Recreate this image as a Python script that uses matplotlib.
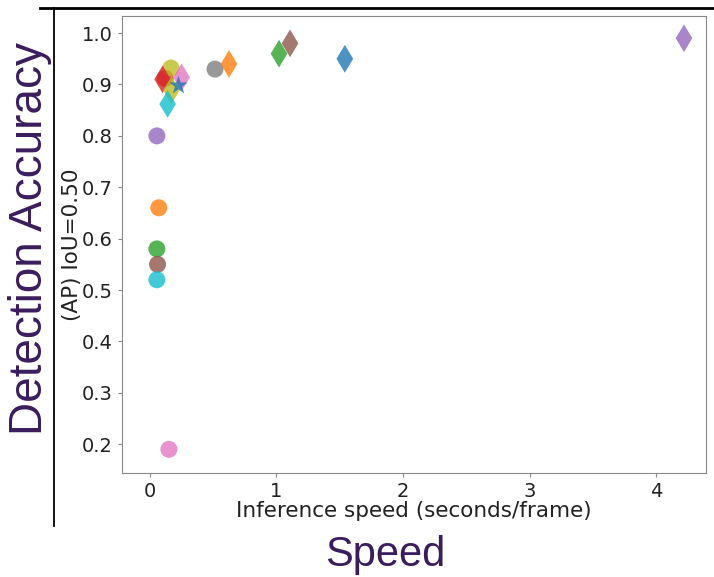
import matplotlib
matplotlib.use("Agg")
import matplotlib.pyplot as plt
from matplotlib.lines import Line2D

# circle series (speed s/frame, AP@0.5)
circle_colors = ["tab:purple", "tab:orange", "tab:green", "tab:brown", "tab:cyan",
                 "tab:pink", "tab:red", "tab:olive", "tab:gray"]
circle_x = [0.055, 0.07, 0.055, 0.06, 0.055, 0.15, 0.12, 0.166, 0.514]
circle_y = [0.80, 0.66, 0.58, 0.55, 0.52, 0.19, 0.912, 0.932, 0.93]

# diamond series
diamond_colors = ["tab:purple", "tab:blue", "tab:brown", "tab:green", "tab:orange",
                  "tab:red", "tab:pink", "tab:olive", "tab:cyan"]
diamond_x = [4.22, 1.54, 1.107, 1.02, 0.625, 0.10, 0.25, 0.17, 0.14]
diamond_y = [0.99, 0.95, 0.98, 0.96, 0.94, 0.91, 0.914, 0.889, 0.862]

# star series
star_colors = ["tab:blue"]
star_x = [0.22]
star_y = [0.899]

xticks = [0, 1, 2, 3, 4]
yticks = [0.2, 0.3, 0.4, 0.5, 0.6, 0.7, 0.8, 0.9, 1.0]

fig = plt.figure(figsize=(7.14, 5.77), dpi=100)
ax = fig.add_axes([0.171, 0.180, 0.818, 0.792])

ax.scatter(circle_x, circle_y, c=circle_colors, marker="o", s=150, alpha=0.8, linewidths=0)
ax.scatter(diamond_x, diamond_y, c=diamond_colors, marker="d", s=200, alpha=0.8, linewidths=0)
ax.scatter(star_x, star_y, c=star_colors, marker="*", s=200, alpha=0.8, linewidths=0)

ax.set_xlim(-0.22, 4.395)
ax.set_ylim(0.1436, 1.033)
ax.set_xticks(xticks)
ax.set_yticks(yticks)
ax.set_xticklabels([str(t) for t in xticks])
ax.set_yticklabels([f"{t:.1f}" for t in yticks])
ax.tick_params(labelsize=14, colors="#222222", length=3, color="#888888")
for sp in ax.spines.values():
    sp.set_color("#888888")
ax.set_xlabel("Inference speed (seconds/frame)", fontsize=15.5, labelpad=0, color="#222222")
ax.set_ylabel("(AP) IoU=0.50", fontsize=15.5, labelpad=0, color="#222222")

# slide overlay lines
fig.add_artist(Line2D([40/714, 1.0], [1-8/577, 1-8/577], color="black", lw=2, transform=fig.transFigure))
fig.add_artist(Line2D([54/714, 54/714], [1-8/577, 1-526/577], color="black", lw=1.3, transform=fig.transFigure))

purple = "#3a1d5c"
fig.text(30/714, 1-238/577, "Detection Accuracy", rotation=90, ha="center", va="center",
         fontsize=33, color=purple, family="Liberation Sans")
fig.text(385/714, 1-555/577, "Speed", ha="center", va="center",
         fontsize=30, color=purple, family="Liberation Sans")

fig.savefig("out.png", dpi=100)
